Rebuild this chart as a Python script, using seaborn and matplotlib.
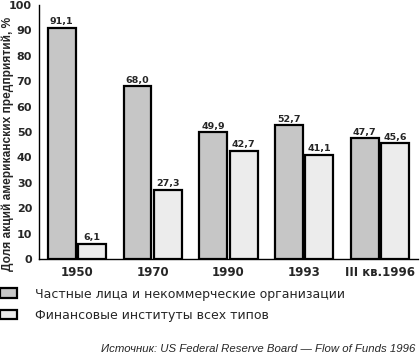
import matplotlib
matplotlib.use("Agg")
import matplotlib.pyplot as plt
import seaborn as sns
import pandas as pd
from matplotlib.ticker import MultipleLocator

categories = ["1950", "1970", "1990", "1993", "III кв.1996"]
series_names = ["Частные лица и некоммерческие организации",
                "Финансовые институты всех типов"]
private_vals = [91.1, 68.0, 49.9, 52.7, 47.7]
financial_vals = [6.1, 27.3, 42.7, 41.1, 45.6]
y_ticks = [0, 10, 20, 30, 40, 50, 60, 70, 80, 90, 100]

df = pd.DataFrame({
    "cat": categories * 2,
    "val": private_vals + financial_vals,
    "ser": [series_names[0]] * 5 + [series_names[1]] * 5,
})

sns.set_style("white")
plt.rcParams["font.family"] = ["DejaVu Sans"]

fig = plt.figure(figsize=(4.2, 3.55), dpi=100)
ax = fig.add_axes([0.093, 0.270, 0.902, 0.716])

sns.barplot(data=df, x="cat", y="val", hue="ser", order=categories,
            hue_order=series_names, palette=["#c6c6c6", "#ececec"],
            width=0.8, gap=0.08, edgecolor="black", linewidth=1.6,
            saturation=1, ax=ax, legend=True)

for cont in ax.containers:
    labels = [f"{v:.1f}".replace(".", ",") for v in cont.datavalues]
    ax.bar_label(cont, labels=labels, padding=1, fontsize=6.8,
                 fontweight="bold")

ax.set_ylim(0, 100)
ax.set_xlim(-0.5, 4.5)
ax.set_yticks(y_ticks)
ax.set_xlabel("")
ax.set_ylabel("Доля акций американских предприятий, %", fontsize=8.6,
              fontweight="bold", family=["Liberation Sans", "DejaVu Sans"])
ax.yaxis.set_label_coords(-0.066, 0.455)
for s in ["top", "right"]:
    ax.spines[s].set_visible(False)
for s in ["left", "bottom"]:
    ax.spines[s].set_linewidth(1.0)
    ax.spines[s].set_color("black")
ax.tick_params(axis="y", which="major", direction="out", length=3, width=1,
               labelsize=8, pad=2)
ax.tick_params(axis="x", which="major", length=0, labelsize=8.5, pad=5)
ax.xaxis.set_minor_locator(MultipleLocator(1, offset=0.5))
ax.tick_params(axis="x", which="minor", direction="in", length=2, width=1)
for lab in ax.get_xticklabels() + ax.get_yticklabels():
    lab.set_fontweight("bold")

handles, labels = ax.get_legend_handles_labels()
ax.get_legend().remove()
fig.legend(handles, labels, loc="upper left", bbox_to_anchor=(0.0, 0.19),
           frameon=False, fontsize=9, handlelength=1.35, handleheight=0.8,
           handletextpad=1.45, labelspacing=0.65, borderaxespad=0,
           borderpad=0)

fig.text(0.99, 0.017,
         "Источник: US Federal Reserve Board — Flow of Funds 1996",
         ha="right", va="center", fontsize=8.2, style="italic",
         family=["Liberation Sans", "DejaVu Sans"])

fig.savefig("out.png", dpi=100)
